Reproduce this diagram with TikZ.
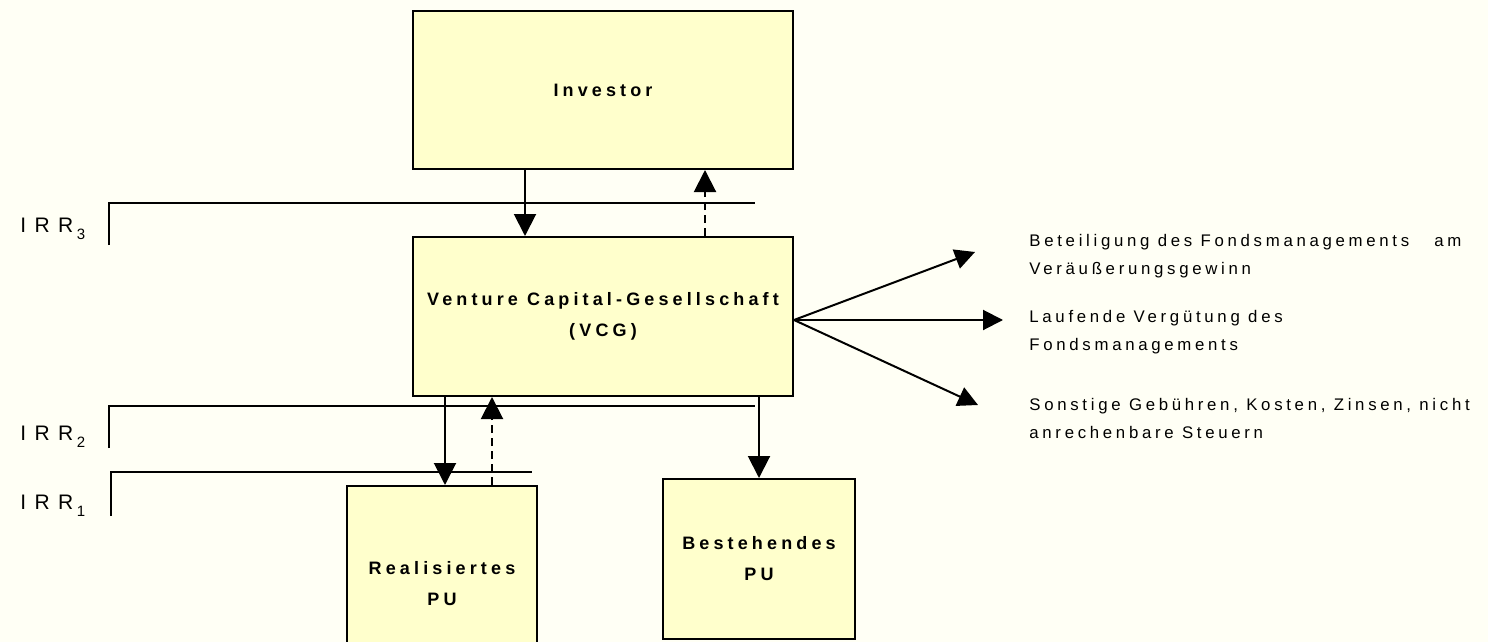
\documentclass[tikz,border=0pt]{standalone}
\usepackage{fontspec}
\setmainfont{Liberation Sans}
\newfontfamily\boxfont[LetterSpace=23]{Liberation Sans}
\newfontfamily\notefont[LetterSpace=22]{Liberation Sans}
\newfontfamily\irrfont[LetterSpace=12]{Liberation Sans}
\usetikzlibrary{arrows.meta}
\definecolor{paper}{HTML}{FFFFF5}
\definecolor{boxfill}{HTML}{FFFFCC}
\newcommand\irrlabel[1]{I R R\,\raisebox{-0.7ex}{\fontsize{7.5}{8}\selectfont #1}}
\tikzset{
  x=0.5pt, y=-0.5pt,
  >={Triangle[length=11pt,width=11pt]},
  unit/.style={draw, line width=1pt, fill=boxfill, inner sep=0pt,
    align=center, font=\boxfont\bfseries\fontsize{9}{15.5}\selectfont},
  flow/.style={->, line width=1pt},
  back/.style={flow, dash pattern=on 4pt off 2.5pt},
  fee/.style={->, line width=1pt, >={Triangle[length=10pt,width=10pt]}},
  note/.style={anchor=west, align=left, inner sep=0pt,
    font=\notefont\fontsize{8.4}{14}\selectfont},
  irr/.style={anchor=base west, inner sep=0pt, font=\irrfont\fontsize{10.5}{11}\selectfont},
  level/.style={line width=1pt},
}

\begin{document}
\begin{tikzpicture}
  \fill[paper] (0,0) rectangle (1488,642);
  \useasboundingbox (0,0) rectangle (1488,642);

  % boxes
  \node[unit, minimum width=190pt, minimum height=79pt] (inv) at (603,90) {Investor};
  \node[unit, minimum width=190pt, minimum height=79.5pt] (vcg) at (603,316.5)
    {Venture Capital-Gesellschaft\\(VCG)};
  \node[unit, minimum width=95pt, minimum height=98pt] (real) at (442,584)
    {Realisiertes\\PU};
  \node[unit, minimum width=96pt, minimum height=80pt] (best) at (759,559)
    {Bestehendes\\PU};

  % IRR levels
  \draw[level] (109,245) |- (755,203);
  \draw[level] (109,448) |- (755,406);
  \draw[level] (111,516) |- (532,472);
  \node[irr] (irr3) at (20,232) {\irrlabel{3}};
  \node[irr] (irr2) at (20,440) {\irrlabel{2}};
  \node[irr] (irr1) at (20,509) {\irrlabel{1}};

  % payments
  \draw[flow] ([xshift=-39pt]inv.south) -- ([xshift=-39pt]vcg.north);
  \draw[back] ([xshift=51pt]vcg.north) -- ([xshift=51pt]inv.south);
  \draw[flow] ([xshift=-79pt]vcg.south) -- ([xshift=-79pt]vcg.south |- real.north);
  \draw[back] ([xshift=25pt]real.north) -- ([xshift=25pt]real.north |- vcg.south);
  \draw[flow] (vcg.south -| best.north) -- (best.north);

  % fees
  \node[note] (n1) at (1029,256) {Beteiligung des Fondsmanagements \ \ am\\Veräußerungsgewinn};
  \node[note] (n2) at (1029,332) {Laufende Vergütung des\\Fondsmanagements};
  \node[note] (n3) at (1029,418) {Sonstige Gebühren, Kosten, Zinsen, nicht\\anrechenbare Steuern};
  \coordinate (src) at ([yshift=-1.75pt]vcg.east);
  \coordinate (t1) at (975,252);
  \coordinate (t2) at (1003,320);
  \coordinate (t3) at (978,405);
  \draw[fee] (src) -- (t1);
  \draw[fee] (src) -- (t2);
  \draw[fee] (src) -- (t3);
\end{tikzpicture}
\end{document}
